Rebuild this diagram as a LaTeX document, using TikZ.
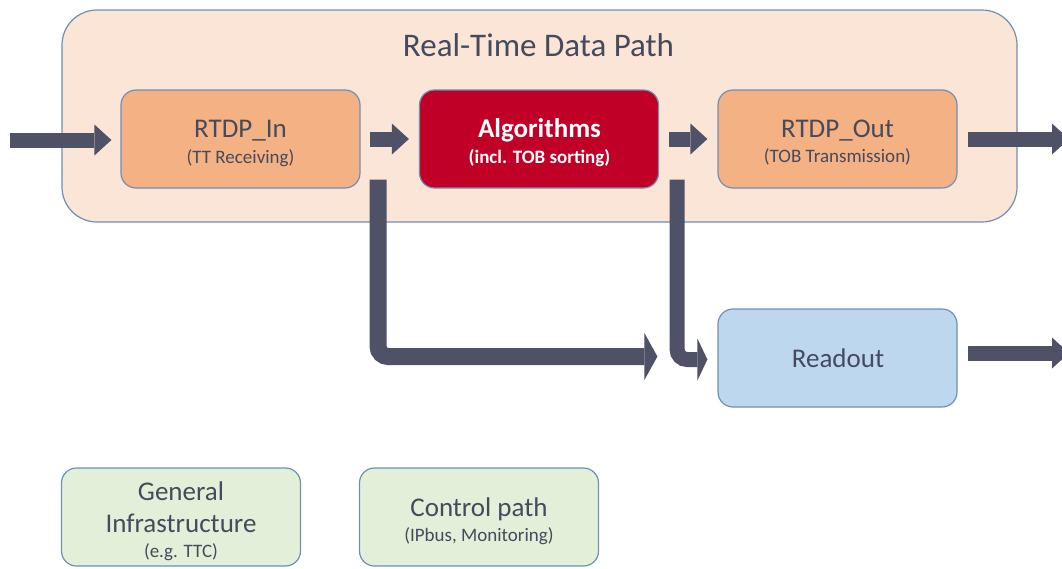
\documentclass[tikz,border=0pt]{standalone}
\usepackage{fontspec}
\setmainfont{Carlito}
\usetikzlibrary{arrows.meta,calc}

\definecolor{pathfill}{HTML}{FBE5D6}
\definecolor{edgeblue}{HTML}{6F8FB5}
\definecolor{orangebox}{HTML}{F4B183}
\definecolor{redbox}{HTML}{C00027}
\definecolor{bluebox}{HTML}{BDD7EE}
\definecolor{greenbox}{HTML}{E2F0D9}
\definecolor{arrowgray}{HTML}{4F5166}
\definecolor{labelgray}{HTML}{454A5C}

\begin{document}
\begin{tikzpicture}[x=1pt,y=-1pt,
  block/.style={draw=edgeblue, line width=1.2pt, rounded corners=15pt,
    minimum width=239pt, minimum height=98pt, inner sep=0pt},
  outerbox/.style={draw=edgeblue, line width=1.2pt, rounded corners=35pt,
    fill=pathfill, minimum width=955pt, minimum height=212pt, inner sep=0pt},
  titlelbl/.style={font=\fontsize{33}{36}\selectfont, text=labelgray, anchor=base, inner sep=0pt},
  mainlbl/.style={font=\fontsize{27}{30}\selectfont, text=labelgray, anchor=base, inner sep=0pt},
  sublbl/.style={font=\fontsize{19}{22}\selectfont, text=labelgray, anchor=base, inner sep=0pt},
  boldlbl/.style={font=\fontsize{27}{30}\selectfont\bfseries, text=white, anchor=base, inner sep=0pt},
  boldsub/.style={font=\fontsize{19}{22}\selectfont\bfseries, text=white, anchor=base, inner sep=0pt},
  flow/.style={draw=arrowgray, line width=15pt,
    -{Triangle[length=17pt,width=31pt,line width=0pt]}},
  tapA/.style={draw=arrowgray, line width=17pt, rounded corners=10pt,
    -{Triangle[length=13pt,width=47pt,line width=0pt]}},
  tapB/.style={draw=arrowgray, line width=15pt, rounded corners=10pt,
    -{Triangle[length=10pt,width=42pt,line width=0pt]}}
]
\useasboundingbox (0,0) rectangle (1062,568);

% real-time data path frame
\node[outerbox] (rtdp) at (539.5,116) {};
\node[titlelbl] (rtdptitle) at (538.5,56.7) {Real-Time Data Path};

% processing blocks
\node[block, fill=orangebox] (in) at (240.5,139) {};
\node[block, fill=redbox] (alg) at (539,139) {};
\node[block, fill=orangebox] (out) at (837.5,139) {};
\node[block, fill=bluebox] (readout) at (837.5,358) {};
\node[block, fill=greenbox] (infra) at (181,517) {};
\node[block, fill=greenbox] (ctrl) at (479,517) {};

% block labels
\node[mainlbl] (inname) at (240.5,137) {RTDP\_In};
\node[sublbl] (insub) at (240.5,163) {(TT Receiving)};
\node[boldlbl] (algname) at (539.5,137) {Algorithms};
\node[boldsub] (algsub) at (539.5,163) {(incl. TOB sorting)};
\node[mainlbl] (outname) at (837.5,137) {RTDP\_Out};
\node[sublbl] (outsub) at (837.5,162) {(TOB Transmission)};
\node[mainlbl] (readname) at (838,367) {Readout};
\node[mainlbl] (infra1) at (181,500) {General};
\node[mainlbl] (infra2) at (181,532) {Infrastructure};
\node[sublbl] (infra3) at (181,557) {(e.g. TTC)};
\node[mainlbl] (ctrlname) at (479,516) {Control path};
\node[sublbl] (ctrlsub) at (479,541) {(IPbus, Monitoring)};

% free ends of the data flow
\coordinate (src) at (10,140);
\coordinate (sinkA) at (1069,139);
\coordinate (sinkB) at (1069,353);

% data flow arrows
\draw[flow, shorten >=9pt] (src) -- (in.west |- src);
\draw[flow] ($(in.east)+(9,0)$) -- ($(alg.west)+(-10,0)$);
\draw[flow] ($(alg.east)+(10,0)$) -- ($(out.west)+(-10,0)$);
\draw[flow] ($(out.east)+(10,0)$) -- (sinkA);
\draw[flow] ($(readout.east)+(10,-5)$) -- (sinkB);

% readout taps
\draw[tapA] ($(in.south east)+(17.5,-9)$) |- ($(readout.west)+(-60,-1.5)$);
\draw[tapB] ($(alg.south east)+(18,-9)$) |- ($(readout.west)+(-10,1.5)$);
\end{tikzpicture}
\end{document}
